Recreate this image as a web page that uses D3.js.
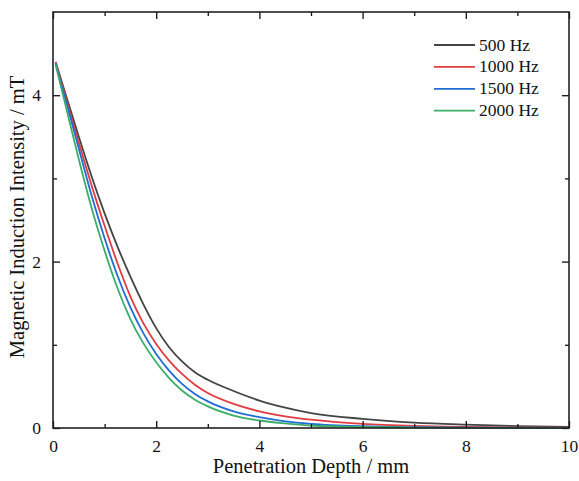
<!DOCTYPE html>
<html><head><meta charset="utf-8">
<script src="https://cdn.jsdelivr.net/npm/d3@7"></script>
<style>body{margin:0;background:#fff}svg{display:block}text{font-family:"Liberation Serif","Times New Roman",serif;fill:#111}</style>
</head><body><svg id="c" width="579" height="481"></svg>
<script>
const depth = [0.05,0.25,0.5,0.75,1.0,1.25,1.5,1.75,2.0,2.25,2.5,2.75,3.0,3.5,4.0,4.5,5,6,7,8,9,10];
const s500  = [4.40,4.00,3.50,3.02,2.58,2.18,1.82,1.49,1.20,0.97,0.80,0.67,0.58,0.445,0.33,0.245,0.18,0.11,0.065,0.04,0.022,0.012];
const s1000 = [4.40,3.96,3.43,2.91,2.43,1.98,1.58,1.26,1.01,0.81,0.65,0.52,0.42,0.29,0.20,0.14,0.10,0.05,0.025,0.013,0.007,0.004];
const s1500 = [4.38,3.93,3.36,2.79,2.28,1.83,1.45,1.14,0.89,0.69,0.53,0.41,0.32,0.20,0.13,0.08,0.05,0.021,0.01,0.005,0.003,0.002];
const s2000 = [4.37,3.86,3.23,2.64,2.13,1.68,1.31,1.02,0.79,0.60,0.45,0.34,0.26,0.15,0.09,0.055,0.03,0.012,0.005,0.002,0.001,0.001];
const seriesNames = ["500 Hz","1000 Hz","1500 Hz","2000 Hz"];
const seriesColors = ["#444444","#e23c40","#1f6dd6","#3aae68"];
const xTicks = [0,2,4,6,8,10];
const yTicks = [0,2,4];
const xTitle = "Penetration Depth / mm";
const yTitle = "Magnetic Induction Intensity / mT";

const svg = d3.select("#c");
const L=53,R=569,T=12,B=428;
const x = d3.scaleLinear().domain([0,10]).range([L,R]);
const y = d3.scaleLinear().domain([0,5]).range([B,T]);
const all=[s500,s1000,s1500,s2000];

const line = d3.line().x((d,i)=>x(depth[i])).y(d=>y(d)).curve(d3.curveMonotoneX);
const g = svg.append("g");
all.forEach((s,k)=>{
  g.append("path").attr("d",line(s)).attr("fill","none").attr("stroke",seriesColors[k]).attr("stroke-width",1.8);
});

function styleAxis(a){
  a.select(".domain").remove();
  a.selectAll("line").attr("stroke","#111").attr("stroke-width",1.3);
  a.selectAll("text").style("font-size","17.5px").style("font-family","Liberation Serif");
}
// bottom
const xb = svg.append("g").attr("transform",`translate(0,${B})`)
  .call(d3.axisBottom(x).tickValues(xTicks).tickSize(-7).tickPadding(12).tickFormat(d3.format("d")));
styleAxis(xb);
svg.append("g").attr("transform",`translate(0,${B})`)
  .call(d3.axisBottom(x).tickValues([1,3,5,7,9]).tickSize(-4).tickFormat("")).call(styleAxis);
// top
svg.append("g").attr("transform",`translate(0,${T})`)
  .call(d3.axisTop(x).tickValues(xTicks).tickSize(-7).tickFormat("")).call(styleAxis);
svg.append("g").attr("transform",`translate(0,${T})`)
  .call(d3.axisTop(x).tickValues([1,3,5,7,9]).tickSize(-4).tickFormat("")).call(styleAxis);
// left
const yl = svg.append("g").attr("transform",`translate(${L},0)`)
  .call(d3.axisLeft(y).tickValues(yTicks).tickSize(-7).tickPadding(12).tickFormat(d3.format("d")));
styleAxis(yl);
svg.append("g").attr("transform",`translate(${L},0)`)
  .call(d3.axisLeft(y).tickValues([1,3]).tickSize(-4).tickFormat("")).call(styleAxis);
// right
svg.append("g").attr("transform",`translate(${R},0)`)
  .call(d3.axisRight(y).tickValues(yTicks).tickSize(-7).tickFormat("")).call(styleAxis);
svg.append("g").attr("transform",`translate(${R},0)`)
  .call(d3.axisRight(y).tickValues([1,3]).tickSize(-4).tickFormat("")).call(styleAxis);

svg.append("rect").attr("x",L).attr("y",T).attr("width",R-L).attr("height",B-T)
  .attr("fill","none").attr("stroke","#222").attr("stroke-width",1.6);

svg.append("text").attr("x",311).attr("y",473).attr("text-anchor","middle")
  .style("font-size","20.5px").text(xTitle);
svg.append("text").attr("transform",`translate(24,217) rotate(-90)`).attr("text-anchor","middle")
  .style("font-size","20.5px").text(yTitle);

const leg = svg.append("g");
seriesNames.forEach((n,k)=>{
  const yy = 45 + k*21.9;
  leg.append("line").attr("x1",434).attr("x2",475).attr("y1",yy).attr("y2",yy)
    .attr("stroke",seriesColors[k]).attr("stroke-width",1.8);
  leg.append("text").attr("x",479).attr("y",yy+5.5).style("font-size","17.5px").text(n);
});
</script></body></html>
